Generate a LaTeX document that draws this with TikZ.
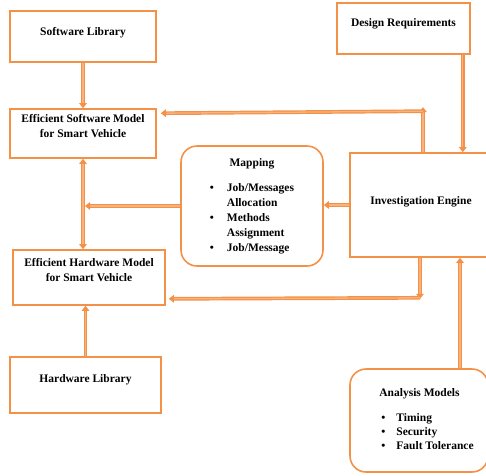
\documentclass[tikz,border=0pt]{standalone}
\usepackage{fontspec}
\setmainfont{Liberation Serif}
\usetikzlibrary{calc,arrows.meta}
\definecolor{boxorange}{RGB}{244,145,70}
\tikzset{
  box/.style={draw=boxorange, line width=1.6pt, inner sep=2pt,
    font=\bfseries\fontsize{11.5}{15}\selectfont},
  roundbox/.style={box, rounded corners=16pt},
  conn/.style={draw=boxorange, line width=1.2pt, double=boxorange!70,
    double distance=1.3pt, ->},
}
% text lifted inside its box, box size kept
\newcommand{\lifted}[2]{\raisebox{#1}[\height][\depth]{\begin{tabular}{@{}c@{}}#2\end{tabular}}}
\newcommand{\bul}{\makebox[17pt][l]{\textbullet}}

\begin{document}
\begin{tikzpicture}[x=1pt, y=-1pt, >={Triangle[length=5pt,width=7.5pt]}]
			%%%%% START %%%%%
			\useasboundingbox (0,0) rectangle (486,475);
			
			\node[box, minimum width=146pt, minimum height=51pt] (swlib) at (83, 36.5) {\lifted{4.5pt}{Software Library}};
			\node[box, minimum width=146pt, minimum height=49pt] (swmodel) at (83, 133.5) {\lifted{6.5pt}{Efficient Software Model\\for Smart Vehicle}};
			\node[box, minimum width=152pt, minimum height=55pt] (hwmodel) at (89, 277.5) {\lifted{6.5pt}{Efficient Hardware Model\\for Smart Vehicle}};
			\node[box, minimum width=151pt, minimum height=56pt] (hwlib) at (85.5, 385) {\lifted{6pt}{Hardware Library}};
			
			\node[box, minimum width=133pt, minimum height=51pt] (design) at (403.5, 28.5) {\lifted{5.5pt}{Design Requirements}};
			\node[box, minimum width=142pt, minimum height=104pt] (engine) at (421, 205) {\lifted{4pt}{Investigation Engine}};
			
			\node[roundbox, minimum width=142pt, minimum height=120pt] (mapping) at (252, 206) {%
				\begin{tabular}{@{}l@{}}
				\multicolumn{1}{@{}c@{}}{Mapping}\\[10pt]
				\bul Job/Messages\\
				\hspace*{17pt}Allocation\\
				\bul Methods\\
				\hspace*{17pt}Assignment\\
				\bul Job/Message
				\end{tabular}};
			\node[roundbox, minimum width=138pt, minimum height=103pt, font=\bfseries\fontsize{11.5}{14}\selectfont] (analysis) at (419, 420.5) {%
				\hspace*{15pt}\begin{tabular}{@{}l@{}}
				Analysis Models\\[11pt]
				\hspace*{2pt}\makebox[15pt][l]{\textbullet}Timing\\
				\hspace*{2pt}\makebox[15pt][l]{\textbullet}Security\\
				\hspace*{2pt}\makebox[15pt][l]{\textbullet}Fault Tolerance
				\end{tabular}};
			
			% left column
			\draw[conn] (swlib.south) -- (swmodel.north);
			\draw[conn, <->] (swmodel.south) -- (swmodel.south |- hwmodel.north);
			\draw[conn] (hwlib.north) -- (hwlib.north |- hwmodel.south);
			\draw[conn, shorten >=2pt] (mapping.west) -- (swmodel.south |- mapping.west);
			
			% engine links
			\draw[conn] (engine.west) -- (engine.west -| mapping.east);
			\coordinate (topturn) at ($(engine.north)+(2,-45)$);
			\draw[conn] ($(engine.north)+(2,0)$) -- (topturn);
			\draw[conn] ($(topturn)+(0,4)$) -- ($(swmodel.north east)+(4,5)$);
			\coordinate (lowturn) at ($(engine.south)+(-1,41)$);
			\draw[conn] ($(engine.south)+(-1,0)$) -- (lowturn);
			\draw[conn] ($(lowturn)+(0,-1)$) -- ($(hwmodel.south east)+(3,-7)$);
			
			\coordinate (dreq) at ($(design.south east)+(-8,0)$);
			\draw[conn] (dreq) -- (dreq |- engine.north);
			\coordinate (amod) at ($(analysis.north)+(41,0)$);
			\draw[conn] (amod) -- (amod |- engine.south);
			
			%%%%% END %%%%%
		\end{tikzpicture}
\end{document}
